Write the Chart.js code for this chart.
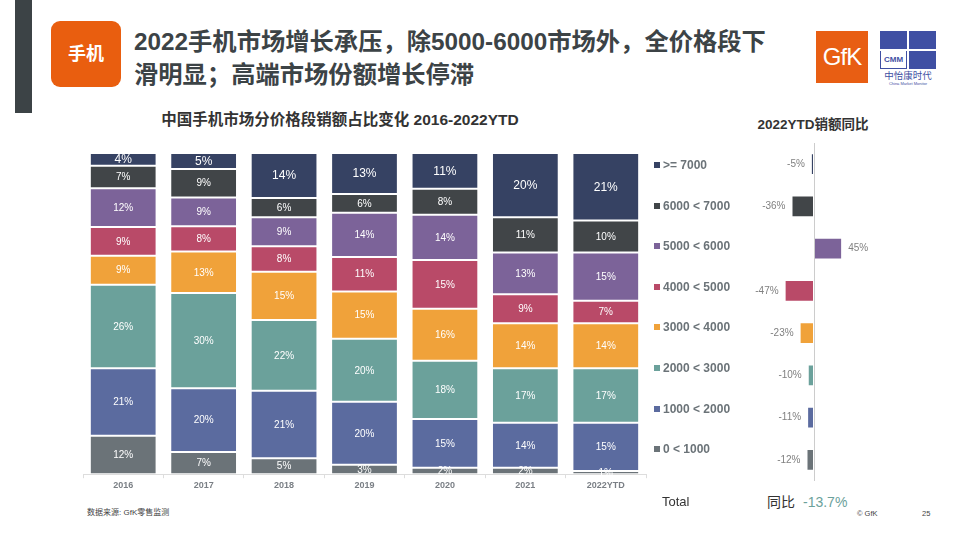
<!DOCTYPE html>
<html>
<head>
<meta charset="utf-8">
<script src="https://cdn.jsdelivr.net/npm/chart.js@4.4.0/dist/chart.umd.min.js"></script>
<style>
  body { margin: 0; background: #fff; }
  #page { position: relative; width: 960px; height: 540px; overflow: hidden; background: #fff;
          font-family: "Liberation Sans", Arial, "Noto Sans CJK SC", sans-serif; }
  .abs { position: absolute; white-space: nowrap; }
  .cjk { font-family: "Liberation Sans", Arial, "Noto Sans CJK SC", sans-serif; }
</style>
</head>
<body>
<div id="page">
  <!-- header -->
  <div class="abs" style="left:15px;top:0;width:17px;height:113px;background:#3c4346;"></div>
  <div class="abs cjk" style="left:51px;top:21px;width:70px;height:66px;background:#e95e0f;border-radius:9px;color:#fff;font-size:18px;font-weight:bold;line-height:66px;text-align:center;">手机</div>
  <div class="abs cjk" style="left:134px;top:25px;font-size:24.3px;font-weight:bold;color:#3c4346;line-height:33px;">2022手机市场增长承压，除5000-6000市场外，全价格段下<br>滑明显；高端市场份额增长停滞</div>

  <!-- logos -->
  <div class="abs" style="left:816px;top:31px;width:52px;height:52px;background:#e85e13;color:#fff;font-size:24px;line-height:52px;text-align:center;letter-spacing:-1px;">GfK</div>
  <div class="abs" style="left:880px;top:31px;width:56px;height:38px;background:#3f4fa3;"></div>
  <div class="abs" style="left:907px;top:31px;width:2px;height:38px;background:#fff;"></div>
  <div class="abs" style="left:880px;top:49px;width:56px;height:2px;background:#fff;"></div>
  <div class="abs" style="left:881px;top:51px;width:25px;height:17px;background:#fff;color:#3f4fa3;font-size:8px;font-weight:bold;line-height:17px;text-align:center;">CMM</div>
  <div class="abs cjk" style="left:880px;top:70px;width:56px;font-size:9.5px;color:#3f4fa3;text-align:center;line-height:12px;">中怡康时代</div>
  <div class="abs" style="left:880px;top:81px;width:56px;font-size:4px;color:#3f4fa3;text-align:center;line-height:5px;">China Market Monitor</div>

  <!-- titles -->
  <div class="abs cjk" style="left:0;width:680px;top:110px;text-align:center;font-size:15.5px;font-weight:bold;color:#333;line-height:20px;">中国手机市场分价格段销额占比变化 2016-2022YTD</div>
  <div class="abs cjk" style="left:713px;width:200px;top:116px;text-align:center;font-size:13.5px;font-weight:bold;color:#333;line-height:18px;">2022YTD销额同比</div>

  <div class="abs" style="left:70px;top:145px;width:590px;height:355px;"><canvas id="shareChart"></canvas></div>
  <div class="abs" style="left:700px;top:140px;width:240px;height:345px;"><canvas id="yoyChart"></canvas></div>
  <div id="legend"></div>

  <!-- footer -->
  <div class="abs cjk" style="left:87px;top:507px;font-size:8px;color:#444;line-height:12px;">数据来源: GfK零售监测</div>
  <div class="abs" style="left:662px;top:494px;font-size:13px;color:#333;line-height:16px;">Total</div>
  <div class="abs cjk" style="left:767px;top:493px;font-size:14px;color:#333;line-height:18px;">同比</div>
  <div class="abs" style="left:803px;top:493px;font-size:14px;color:#6ba19b;line-height:18px;">-13.7%</div>
  <div class="abs" style="left:857px;top:509px;font-size:7.5px;color:#444;line-height:10px;">© GfK</div>
  <div class="abs" style="left:922px;top:509px;font-size:7.5px;color:#444;line-height:10px;">25</div>
</div>

<script>
const years = ["2016", "2017", "2018", "2019", "2020", "2021", "2022YTD"];
const segments = ["0 < 1000", "1000 < 2000", "2000 < 3000", "3000 < 4000",
                  "4000 < 5000", "5000 < 6000", "6000 < 7000", ">= 7000"];
const segColors = ["#6b7378", "#5b6b9f", "#6ba19b", "#f0a23a",
                   "#b94a68", "#7c6399", "#414548", "#364263"];

// share of sales value, % (as labelled)
const p0_1000    = [12, 7, 5, 3, 2, 2, 1];
const p1000_2000 = [21, 20, 21, 20, 15, 14, 15];
const p2000_3000 = [26, 30, 22, 20, 18, 17, 17];
const p3000_4000 = [9, 13, 15, 15, 16, 14, 14];
const p4000_5000 = [9, 8, 8, 11, 15, 9, 7];
const p5000_6000 = [12, 9, 9, 14, 14, 13, 15];
const p6000_7000 = [7, 9, 6, 6, 8, 11, 10];
const p7000plus  = [4, 5, 14, 13, 11, 20, 21];
const shares = [p0_1000, p1000_2000, p2000_3000, p3000_4000,
                p4000_5000, p5000_6000, p6000_7000, p7000plus];

// 2022YTD yoy growth, % (same segment order)
const yoy = [-12, -11, -10, -23, -47, 45, -36, -5];

// 100% stacked: each column scaled to its total
const colTotals = years.map((y, i) => shares.reduce((s, a) => s + a[i], 0));

Chart.defaults.font.family = '"Liberation Sans", Arial, sans-serif';
Chart.defaults.animation = false;

const shareLabels = {
  id: "shareLabels",
  afterDatasetsDraw(chart) {
    const ctx = chart.ctx;
    ctx.save();
    ctx.fillStyle = "#ffffff";
    ctx.textAlign = "center";
    ctx.textBaseline = "middle";
    chart.data.datasets.forEach((ds, di) => {
      const meta = chart.getDatasetMeta(di);
      ctx.font = (di === 7 ? "12px" : "10px") + ' "Liberation Sans", Arial, sans-serif';
      meta.data.forEach((el, i) => {
        ctx.fillText(ds.raw[i] + "%", el.x, (el.y + el.base) / 2 + 0.5);
      });
    });
    ctx.restore();
  }
};

new Chart(document.getElementById("shareChart"), {
  type: "bar",
  data: {
    labels: years,
    datasets: shares.map((arr, k) => ({
      label: segments[k],
      raw: arr,
      data: arr.map((v, i) => v * 100 / colTotals[i]),
      backgroundColor: segColors[k],
      borderColor: "rgba(255,255,255,0.9)",
      borderWidth: 1,
      borderSkipped: false,
      categoryPercentage: 1,
      barPercentage: 0.83
    }))
  },
  options: {
    responsive: true,
    maintainAspectRatio: false,
    layout: { padding: { left: 13, right: 14, top: 8, bottom: 7 } },
    plugins: { legend: { display: false }, tooltip: { enabled: false } },
    scales: {
      x: {
        stacked: true,
        grid: { drawOnChartArea: false, drawTicks: true, tickLength: 4, color: "#dddddd" },
        border: { color: "#dddddd" },
        ticks: { color: "#7a7f85", font: { size: 9, weight: "bold" }, padding: 2 }
      },
      y: { stacked: true, display: false, min: 0, max: 100 }
    }
  },
  plugins: [shareLabels]
});

// legend
const legend = document.getElementById("legend");
for (let k = segments.length - 1, row = 0; k >= 0; k--, row++) {
  const cy = 165 + row * 40.6;
  legend.insertAdjacentHTML("beforeend",
    `<div class="abs" style="left:654px;top:${cy - 3}px;width:6px;height:6px;background:${segColors[k]};"></div>` +
    `<div class="abs" style="left:663px;top:${cy - 8}px;font-size:12px;font-weight:bold;color:#6b7378;line-height:16px;">${segments[k]}</div>`);
}

const yoyOrder = segments.map((s, k) => k).reverse();

const yoyLabels = {
  id: "yoyLabels",
  afterDatasetsDraw(chart) {
    const ctx = chart.ctx;
    const meta = chart.getDatasetMeta(0);
    const xs = chart.scales.x;
    const zero = xs.getPixelForValue(0);
    ctx.save();
    ctx.strokeStyle = "#cccccc";
    ctx.lineWidth = 1;
    ctx.beginPath();
    ctx.moveTo(Math.round(zero) + 0.5, chart.chartArea.top);
    ctx.lineTo(Math.round(zero) + 0.5, chart.chartArea.bottom);
    ctx.stroke();
    ctx.font = '10px "Liberation Sans", Arial, sans-serif';
    ctx.fillStyle = "#808080";
    ctx.textBaseline = "middle";
    meta.data.forEach((el, i) => {
      const v = chart.data.datasets[0].data[i];
      if (v < 0) { ctx.textAlign = "right"; ctx.fillText(v + "%", el.x - 6, el.y); }
      else { ctx.textAlign = "left"; ctx.fillText(v + "%", el.x + 6, el.y); }
    });
    ctx.restore();
  }
};

new Chart(document.getElementById("yoyChart"), {
  type: "bar",
  data: {
    labels: yoyOrder.map(k => segments[k]),
    datasets: [{
      data: yoyOrder.map(k => yoy[k]),
      backgroundColor: yoyOrder.map(k => segColors[k]),
      borderColor: "rgba(255,255,255,0.6)",
      borderWidth: 1,
      borderSkipped: false,
      categoryPercentage: 1,
      barPercentage: 0.52
    }]
  },
  options: {
    indexAxis: "y",
    responsive: true,
    maintainAspectRatio: false,
    layout: { padding: { left: 64, right: 76, top: 3, bottom: 4 } },
    plugins: { legend: { display: false }, tooltip: { enabled: false } },
    scales: {
      x: { display: false, min: -80, max: 80 },
      y: { display: false }
    }
  },
  plugins: [yoyLabels]
});
</script>
</body>
</html>
